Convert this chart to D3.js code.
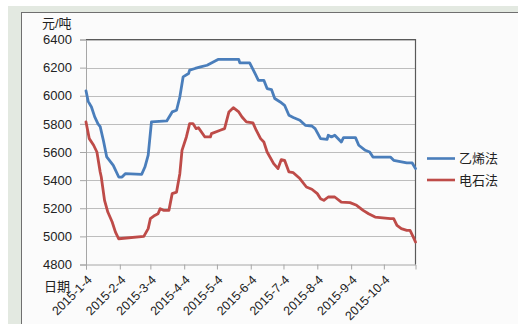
<!DOCTYPE html>
<html><head><meta charset="utf-8">
<script src="https://cdn.jsdelivr.net/npm/d3@7"></script>
<style>
html,body{margin:0;padding:0;background:#fff;}
svg{display:block;font-family:"Liberation Sans",Arial,"Noto Sans CJK SC",sans-serif;}
</style></head><body>
<svg id="c" width="518" height="324"></svg>
<script>
const yTicks = [4800, 5000, 5200, 5400, 5600, 5800, 6000, 6200, 6400];
const xTickLabels = ["2015-1-4","2015-2-4","2015-3-4","2015-4-4","2015-5-4","2015-6-4","2015-7-4","2015-8-4","2015-9-4","2015-10-4"];
const seriesNames = ["乙烯法", "电石法"];
const ethyleneDates = ["2015-01-04","2015-01-06","2015-01-09","2015-01-12","2015-01-15","2015-01-17","2015-01-20","2015-01-23","2015-01-29","2015-02-03","2015-02-06","2015-02-09","2015-02-24","2015-02-27","2015-03-02","2015-03-05","2015-03-19","2015-03-24","2015-03-28","2015-03-31","2015-04-03","2015-04-08","2015-04-09","2015-04-14","2015-04-19","2015-04-25","2015-05-05","2015-05-24","2015-05-25","2015-06-03","2015-06-08","2015-06-11","2015-06-16","2015-06-19","2015-06-23","2015-06-26","2015-07-01","2015-07-05","2015-07-09","2015-07-13","2015-07-19","2015-07-24","2015-07-30","2015-08-02","2015-08-07","2015-08-13","2015-08-14","2015-08-17","2015-08-20","2015-08-26","2015-08-28","2015-09-08","2015-09-11","2015-09-17","2015-09-21","2015-09-24","2015-10-10","2015-10-13","2015-10-25","2015-10-30","2015-11-02"];
const ethyleneValues = [6035,5960,5920,5850,5800,5780,5680,5565,5505,5422,5422,5446,5441,5493,5577,5814,5821,5885,5897,5991,6134,6158,6182,6194,6205,6217,6258,6258,6234,6234,6158,6110,6110,6051,6044,5980,5956,5932,5861,5845,5826,5790,5785,5766,5695,5690,5719,5707,5719,5671,5702,5702,5648,5612,5600,5564,5564,5541,5522,5522,5482];
const carbideDates = ["2015-01-04","2015-01-07","2015-01-11","2015-01-14","2015-01-17","2015-01-18","2015-01-21","2015-01-24","2015-01-28","2015-01-31","2015-02-03","2015-02-26","2015-03-02","2015-03-04","2015-03-08","2015-03-11","2015-03-13","2015-03-16","2015-03-21","2015-03-24","2015-03-28","2015-03-31","2015-04-02","2015-04-06","2015-04-09","2015-04-12","2015-04-15","2015-04-17","2015-04-23","2015-04-28","2015-04-29","2015-05-07","2015-05-11","2015-05-15","2015-05-19","2015-05-24","2015-05-27","2015-05-31","2015-06-06","2015-06-09","2015-06-13","2015-06-16","2015-06-19","2015-06-25","2015-06-29","2015-07-02","2015-07-05","2015-07-09","2015-07-13","2015-07-19","2015-07-25","2015-07-30","2015-08-04","2015-08-07","2015-08-10","2015-08-14","2015-08-20","2015-08-26","2015-09-03","2015-09-09","2015-09-15","2015-09-20","2015-09-26","2015-10-10","2015-10-13","2015-10-16","2015-10-20","2015-10-25","2015-10-28","2015-10-31","2015-11-02"];
const carbideValues = [5814,5695,5648,5600,5458,5422,5256,5173,5102,5030,4983,5000,5055,5126,5149,5161,5197,5185,5185,5304,5315,5446,5612,5707,5802,5802,5766,5773,5707,5707,5731,5755,5766,5885,5915,5885,5849,5814,5807,5755,5695,5671,5600,5517,5482,5546,5541,5458,5453,5411,5351,5335,5304,5268,5256,5280,5280,5244,5240,5221,5185,5161,5137,5126,5126,5078,5055,5043,5043,4995,4960];
const colors = ["#4a7ebb", "#be4b48"];

const parse = d3.timeParse("%Y-%m-%d");
const tickParse = d3.timeParse("%Y-%-m-%-d");
const svg = d3.select("#c");

// frame
svg.append("rect").attr("x", 8).attr("y", 6).attr("width", 510).attr("height", 318).attr("fill", "#e3e9e1");
svg.append("rect").attr("x", 21.5).attr("y", 12.5).attr("width", 500).attr("height", 320).attr("fill", "#fbfbfb").attr("stroke", "#6f6f6f").attr("stroke-width", 1);

const L = 86, R = 415.5, T = 39.5, B = 264.5;
const x = d3.scaleTime().domain([parse("2015-01-04"), parse("2015-11-02")]).range([L, R]);
const y = d3.scaleLinear().domain([4800, 6400]).range([B, T]);

// grid
svg.append("g").selectAll("line").data(yTicks.slice(1)).join("line")
  .attr("x1", L).attr("x2", R).attr("y1", d => Math.round(y(d)) + 0.5).attr("y2", d => Math.round(y(d)) + 0.5)
  .attr("stroke", "#bdbdbd").attr("stroke-width", 1);

// y axis
const ya = svg.append("g").attr("transform", `translate(${L},0)`)
  .call(d3.axisLeft(y).tickValues(yTicks).tickSize(6).tickPadding(8).tickFormat(d3.format("d")));
ya.select(".domain").attr("stroke", "#a6a6a6");
ya.selectAll(".tick line").attr("stroke", "#a6a6a6");
ya.selectAll("text").attr("font-size", 13).attr("fill", "#222").attr("font-family", "Liberation Sans, Arial, sans-serif");

// x axis
const xTickDates = xTickLabels.map(s => tickParse(s));
const xa = svg.append("g").attr("transform", `translate(0,${B})`)
  .call(d3.axisBottom(x).tickValues(xTickDates).tickSize(5).tickFormat((d, i) => xTickLabels[i]));
xa.select(".domain").attr("stroke", "#a6a6a6");
xa.selectAll(".tick line").attr("stroke", "#a6a6a6");
xa.selectAll("text").attr("font-size", 12.5).attr("fill", "#222")
  .attr("text-anchor", "end").attr("dy", "0.35em")
  .attr("transform", "translate(3,13) rotate(-45)").attr("y", 0).attr("x", 0);

// plot border top/right
svg.append("path").attr("d", `M${L},${T}H${R}V${B}`).attr("fill", "none").attr("stroke", "#5a5a5a").attr("stroke-width", 1.2);

// lines
const line = d3.line().x(d => x(d[0])).y(d => y(d[1]));
const series = [
  ethyleneDates.map((d, i) => [parse(d), ethyleneValues[i]]),
  carbideDates.map((d, i) => [parse(d), carbideValues[i]])
];
series.forEach((s, i) => {
  svg.append("path").datum(s).attr("d", line).attr("fill", "none")
    .attr("stroke", colors[i]).attr("stroke-width", 2.8).attr("stroke-linejoin", "round").attr("stroke-linecap", "round");
});

// titles
svg.append("text").attr("x", 42).attr("y", 28).attr("font-size", 13).attr("fill", "#222").text("元/吨");
svg.append("text").attr("x", 44).attr("y", 291).attr("font-size", 13).attr("fill", "#222").text("日期");

// legend
const lg = svg.append("g");
seriesNames.forEach((n, i) => {
  const yy = 158.5 + i * 21.5;
  lg.append("line").attr("x1", 427).attr("x2", 455).attr("y1", yy).attr("y2", yy).attr("stroke", colors[i]).attr("stroke-width", 2.6);
  lg.append("text").attr("x", 459).attr("y", yy).attr("dy", "0.36em").attr("font-size", 13).attr("fill", "#222").text(n);
});
</script></body></html>
